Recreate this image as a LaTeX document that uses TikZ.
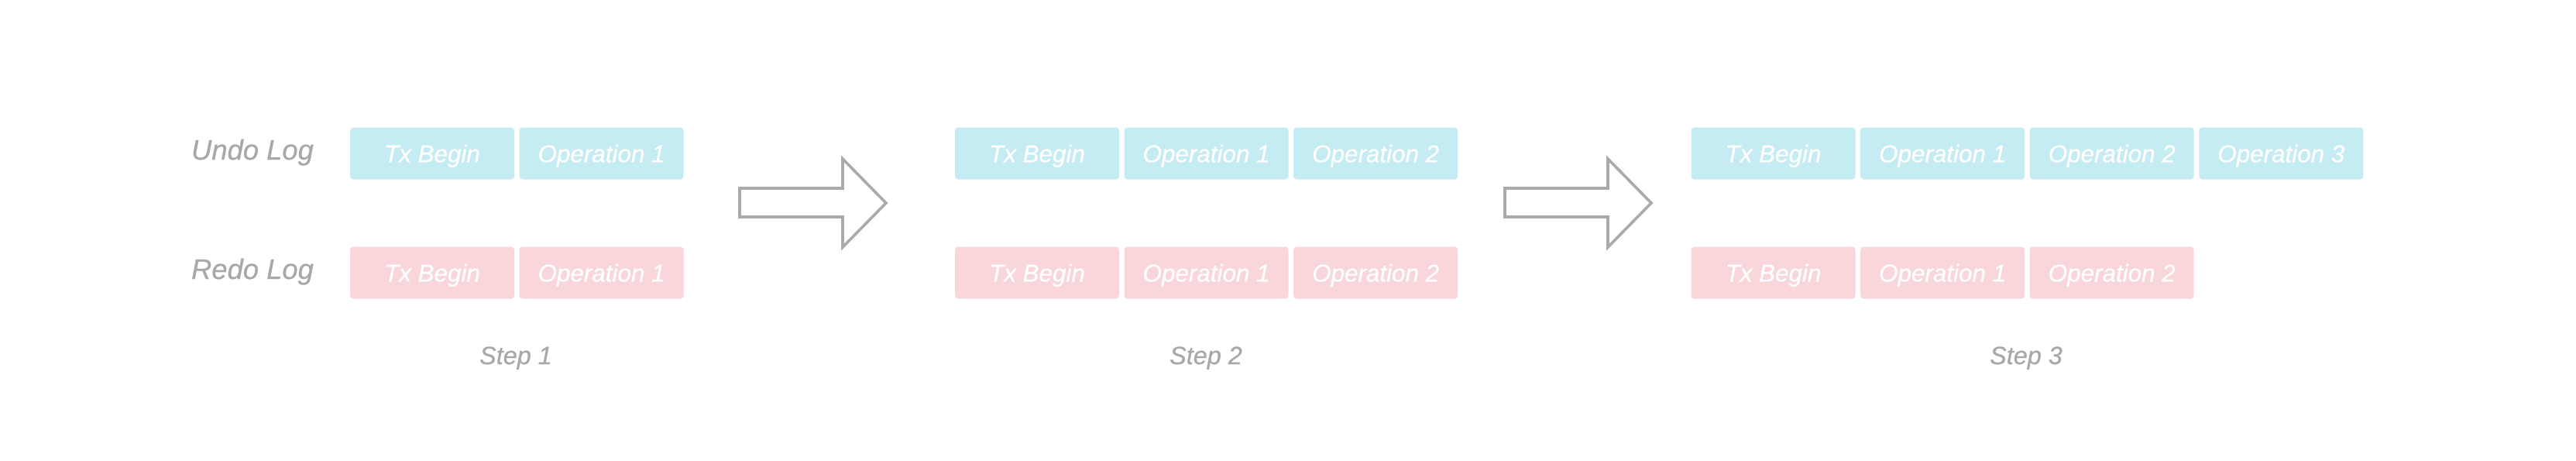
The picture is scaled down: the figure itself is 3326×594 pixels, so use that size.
\documentclass[tikz,border=0pt]{standalone}
\usepackage{fontspec}
\setmainfont{Liberation Sans}
\newfontfamily\figfont[ItalicFeatures={FakeBold=0.6}]{Liberation Sans}
\usetikzlibrary{positioning}
\definecolor{undofill}{HTML}{C4ECF2}
\definecolor{redofill}{HTML}{F9D6DA}
\definecolor{labelgray}{HTML}{A8A8A8}
\definecolor{arrowgray}{HTML}{AAAAAA}
\tikzset{
  logbox/.style = {shape=rectangle, rounded corners=1pt, inner sep=0pt,
    minimum width=53pt, minimum height=16.75pt, text=white,
    text height=5.7pt, text depth=0pt,
    font=\fontsize{7.85}{9}\figfont\itshape},
  undobox/.style = {logbox, fill=undofill},
  redobox/.style = {logbox, fill=redofill},
  rowlabel/.style = {anchor=base, text=labelgray,
    font=\fontsize{9.1}{11}\figfont\itshape},
  steplabel/.style = {anchor=base, text=labelgray,
    font=\fontsize{8.1}{10}\figfont\itshape},
  bigarrow/.style = {draw=arrowgray, line width=0.9pt, fill=white}
}
\begin{document}
\begin{tikzpicture}[x=0.25pt, y=-0.25pt, node distance=1.25pt]
  \useasboundingbox (0,0) rectangle (3326,594);
  % row labels
  \node[rowlabel] (undolabel) at (326,206) {Undo Log};
  \node[rowlabel] (redolabel) at (326,360) {Redo Log};
  % step 1
  \node[undobox] (u1a) at (558,198) {Tx Begin};
  \node[undobox, right=of u1a] (u1b) {Operation 1};
  \node[redobox] (r1a) at (558,352) {Tx Begin};
  \node[redobox, right=of r1a] (r1b) {Operation 1};
  \node[steplabel] (step1) at (666,470) {Step 1};
  % step 2
  \node[undobox] (u2a) at (1339,198) {Tx Begin};
  \node[undobox, right=of u2a] (u2b) {Operation 1};
  \node[undobox, right=of u2b] (u2c) {Operation 2};
  \node[redobox] (r2a) at (1339,352) {Tx Begin};
  \node[redobox, right=of r2a] (r2b) {Operation 1};
  \node[redobox, right=of r2b] (r2c) {Operation 2};
  \node[steplabel] (step2) at (1557,470) {Step 2};
  % step 3
  \node[undobox] (u3a) at (2289.5,198) {Tx Begin};
  \node[undobox, right=of u3a] (u3b) {Operation 1};
  \node[undobox, right=of u3b] (u3c) {Operation 2};
  \node[undobox, right=of u3c] (u3d) {Operation 3};
  \node[redobox] (r3a) at (2289.5,352) {Tx Begin};
  \node[redobox, right=of r3a] (r3b) {Operation 1};
  \node[redobox, right=of r3b] (r3c) {Operation 2};
  \node[steplabel] (step3) at (2616,470) {Step 3};
  % block arrows between the steps
  \foreach \ax in {955,1943}
    \draw[bigarrow] (\ax,243) -- (\ax+133,243) -- (\ax+133,205)
      -- (\ax+189,262) -- (\ax+133,319) -- (\ax+133,280)
      -- (\ax,280) -- cycle;
\end{tikzpicture}
\end{document}
